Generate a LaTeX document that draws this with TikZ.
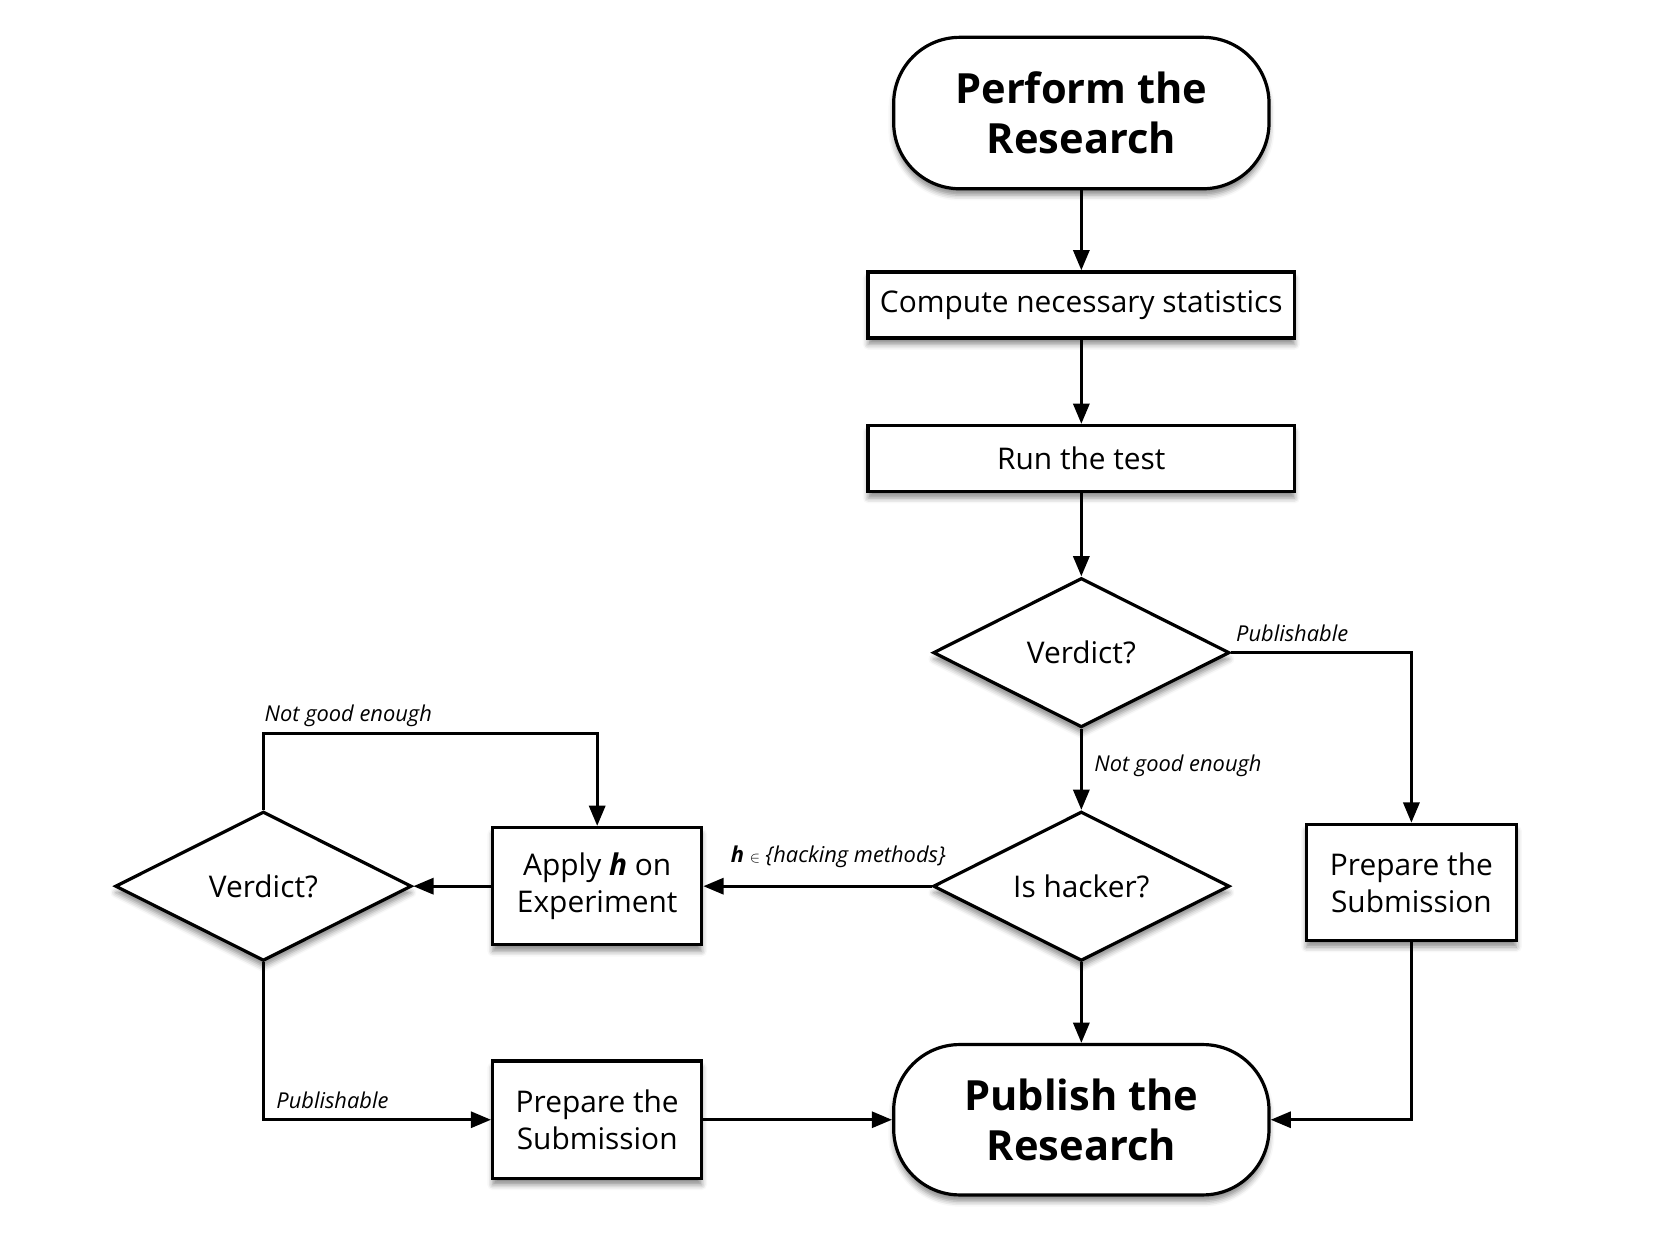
\documentclass[tikz,border=0pt]{standalone}
\usepackage{fontspec}
\setmainfont{Open Sans}
\usetikzlibrary{arrows.meta,shapes.geometric,shadows.blur}
\begin{document}
\begin{tikzpicture}[x=1pt,y=-1pt,
  outline/.style={line width=3pt, draw=black, fill=white},
  shadowed/.style={blur shadow={shadow xshift=0pt, shadow yshift=-6pt, shadow blur radius=5pt, shadow opacity=45}},
  term/.style={outline, shadowed, rectangle, rounded corners=62pt, minimum width=352pt, minimum height=142pt, inner sep=0pt, align=center, font=\fontsize{39}{47}\selectfont\bfseries},
  procbox/.style={outline, shadowed, rectangle, inner sep=0pt, align=center, font=\fontsize{28}{35}\selectfont},
  decision/.style={outline, shadowed, diamond, aspect=2, minimum width=278pt, minimum height=140pt, inner sep=0pt, align=center, font=\fontsize{28}{35}\selectfont},
  arr/.style={line width=3pt, -{Triangle[length=19pt,width=15pt]}},
  lab/.style={font=\fontsize{20.5}{22}\selectfont\itshape, inner sep=0pt}
]
\useasboundingbox (0,0) rectangle (1566,1176);

\node[term] (start) at (1014,106) {Perform the\\Research};
\node[procbox, minimum width=400pt, minimum height=62pt] (compute) at (1014,286) {Compute necessary statistics};
\node[procbox, minimum width=400pt, minimum height=62pt] (run) at (1014,430) {Run the test};
\node[decision] (v1) at (1014,612) {Verdict?};
\node[decision] (hack) at (1014,831) {Is hacker?};
\node[procbox, minimum width=197pt, minimum height=109pt] (prepR) at (1323.5,827.5) {Prepare the\\Submission};
\node[procbox, minimum width=196pt, minimum height=110pt] (apply) at (560,831) {Apply \textbf{\textit{h}} on\\Experiment};
\node[decision] (v2) at (247,831) {Verdict?};
\node[procbox, minimum width=196pt, minimum height=110pt] (prepB) at (560,1050) {Prepare the\\Submission};
\node[term, minimum height=141pt] (pub) at (1014,1050) {Publish the\\Research};

\coordinate (c1) at (247,688);
\coordinate (c2) at (560,688);

\draw[arr] (start) -- (compute);
\draw[arr] (compute) -- (run);
\draw[arr] (run) -- (v1);
\draw[arr] (v1.east) -| (prepR.north);
\draw[arr] (v1) -- (hack);
\draw[arr] (hack) -- (apply);
\draw[arr] (hack) -- (pub);
\draw[arr] (prepR.south) |- (pub.east);
\draw[arr] (apply) -- (v2);
\draw[arr] (v2.north) -- (c1) -- (c2) -- (apply.north);
\draw[arr] (v2.south) |- (prepB.west);
\draw[arr] (prepB) -- (pub);

\node[lab, anchor=base west] (l1) at (1159,602) {Publishable};
\node[lab, anchor=base west] (l2) at (1026,723) {Not good enough};
\node[lab, anchor=base east] (l3) at (887,809) {\textbf{h} {\fontsize{15}{15}\selectfont$\in$} \{hacking methods\}};
\node[lab, anchor=base west] (l4) at (248,677) {Not good enough};
\node[lab, anchor=base west] (l5) at (259,1039) {Publishable};
\end{tikzpicture}
\end{document}
